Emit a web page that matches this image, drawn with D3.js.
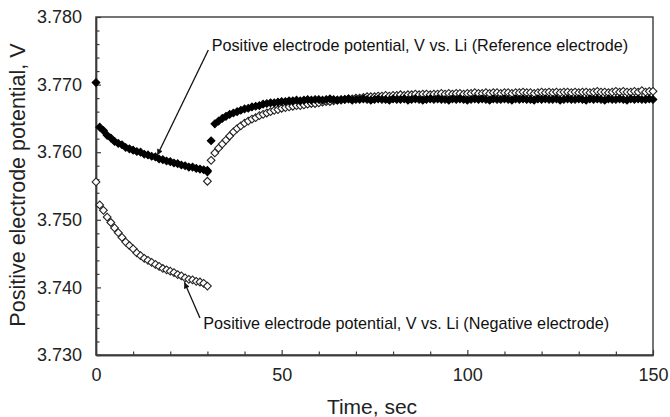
<!DOCTYPE html>
<html>
<head>
<meta charset="utf-8">
<script src="https://cdn.jsdelivr.net/npm/d3@7/dist/d3.min.js"></script>
<style>
  html, body { margin: 0; padding: 0; background: #fff; }
  svg { display: block; font-family: "Liberation Sans", Arial, Helvetica, sans-serif; }
</style>
</head>
<body>
<svg id="chart" width="670" height="417"></svg>
<script>
// Sample times (s): 30 s current pulse, then relaxation; t = 30 is sampled twice
const time = [
  0,1,2,3,4,5,6,7,8,9,10,11,12,13,14,15,16,17,18,19,20,21,22,23,24,25,26,27,28,29,30,
  30,31,32,33,34,35,36,37,38,39,40,41,42,43,44,45,46,47,48,49,50,
  51,52,53,54,55,56,57,58,59,60,61,62,63,64,65,66,67,68,69,70,
  71,72,73,74,75,76,77,78,79,80,81,82,83,84,85,86,87,88,89,90,
  91,92,93,94,95,96,97,98,99,100,101,102,103,104,105,106,107,108,109,110,
  111,112,113,114,115,116,117,118,119,120,121,122,123,124,125,126,127,128,129,130,
  131,132,133,134,135,136,137,138,139,140,141,142,143,144,145,146,147,148,149,150
];

// Positive electrode potential vs. Li reference electrode (V)
const vsReference = [
  3.7703,3.7637,3.7632,3.7625,3.7621,3.7616,3.7613,3.7611,3.7607,3.7605,3.7603,3.7601,3.7600,3.7597,3.7596,3.7594,
  3.7593,3.7590,3.7589,3.7587,3.7586,3.7584,3.7583,3.7581,3.7580,3.7578,3.7578,3.7576,3.7575,3.7574,3.7571,
  3.7573,3.7617,3.7642,3.7646,3.7650,3.7653,3.7656,3.7658,3.7660,3.7662,3.7664,3.7665,3.7667,3.7668,3.7669,3.7671,
  3.7672,3.7673,3.7673,3.7674,3.7675,
  3.7675,3.7676,3.7676,3.7677,3.7676,3.7677,3.7678,3.7677,3.7678,3.7678,
  3.7677,3.7678,3.7679,3.7678,3.7677,3.7678,3.7678,3.7679,3.7677,3.7678,
  3.7678,3.7679,3.7678,3.7677,3.7678,3.7679,3.7678,3.7678,3.7677,3.7679,
  3.7678,3.7678,3.7679,3.7677,3.7678,3.7679,3.7678,3.7677,3.7678,3.7679,
  3.7678,3.7679,3.7678,3.7678,3.7677,3.7679,3.7678,3.7679,3.7678,3.7677,
  3.7678,3.7679,3.7678,3.7679,3.7678,3.7677,3.7679,3.7678,3.7678,3.7679,
  3.7678,3.7677,3.7679,3.7678,3.7679,3.7678,3.7678,3.7677,3.7679,3.7678,
  3.7679,3.7678,3.7678,3.7679,3.7677,3.7678,3.7679,3.7678,3.7678,3.7679,
  3.7678,3.7677,3.7679,3.7678,3.7679,3.7678,3.7677,3.7679,3.7678,3.7678,
  3.7679,3.7678,3.7677,3.7679,3.7678,3.7679,3.7678,3.7678,3.7679,3.7678
];

// Positive electrode potential vs. Li taken against the negative electrode (V)
const vsNegative = [
  3.7556,3.7522,3.7514,3.7504,3.7496,3.7488,3.7481,3.7474,3.7467,3.7462,3.7457,3.7451,3.7447,3.7443,3.7440,3.7437,
  3.7434,3.7431,3.7428,3.7426,3.7424,3.7422,3.7419,3.7417,3.7414,3.7412,3.7411,3.7409,3.7408,3.7406,3.7402,
  3.7557,3.7588,3.7599,3.7606,3.7612,3.7618,3.7624,3.7630,3.7635,3.7639,3.7643,3.7646,3.7649,3.7651,3.7654,3.7656,
  3.7658,3.7660,3.7662,3.7663,3.7665,
  3.7666,3.7667,3.7668,3.7669,3.7669,3.7670,3.7671,3.7672,3.7672,3.7673,
  3.7674,3.7675,3.7675,3.7676,3.7677,3.7677,3.7678,3.7679,3.7679,3.7680,
  3.7680,3.7681,3.7682,3.7682,3.7682,3.7683,3.7683,3.7684,3.7683,3.7684,
  3.7684,3.7685,3.7684,3.7685,3.7685,3.7686,3.7685,3.7686,3.7686,3.7685,
  3.7686,3.7686,3.7687,3.7686,3.7687,3.7686,3.7687,3.7687,3.7686,3.7687,
  3.7687,3.7688,3.7687,3.7687,3.7688,3.7687,3.7688,3.7688,3.7687,3.7688,
  3.7688,3.7687,3.7688,3.7688,3.7689,3.7688,3.7688,3.7687,3.7688,3.7689,
  3.7688,3.7689,3.7688,3.7689,3.7688,3.7689,3.7689,3.7688,3.7689,3.7688,
  3.7689,3.7689,3.7688,3.7689,3.7690,3.7689,3.7689,3.7688,3.7689,3.7690,
  3.7689,3.7690,3.7689,3.7689,3.7690,3.7689,3.7691,3.7689,3.7690,3.7690
];

// Axis ticks
const xTicks = [0, 50, 100, 150];
const xMinorTicks = [10,20,30,40,60,70,80,90,110,120,130,140];
const yTicks = [3.730, 3.740, 3.750, 3.760, 3.770, 3.780];
const yMinorTicks = [3.732,3.734,3.736,3.738,3.742,3.744,3.746,3.748,3.752,3.754,3.756,3.758,
                     3.762,3.764,3.766,3.768,3.772,3.774,3.776,3.778];

// Annotation labels: text anchor and arrow (tail -> head) in data units
const noteText = [
  "Positive electrode potential, V vs. Li (Reference electrode)",
  "Positive electrode potential, V vs. Li (Negative electrode)"
];
const noteAt = [[31.15, 3.77490], [28.9, 3.73392]];
const arrowFrom = [[30.25, 3.77512], [28.0, 3.73547]];
const arrowTo = [[16.5, 3.75955], [23.8, 3.74075]];

const svg = d3.select("#chart");
const plotLeft = 96, plotRight = 653, plotTop = 17, plotBottom = 355;

const x = d3.scaleLinear().domain([0, 150]).range([plotLeft, plotRight]);
const y = d3.scaleLinear().domain([3.730, 3.780]).range([plotBottom, plotTop]);

const axisColor = "#3a3a3a";

// Plot frame
svg.append("rect")
  .attr("x", plotLeft).attr("y", plotTop)
  .attr("width", plotRight - plotLeft).attr("height", plotBottom - plotTop)
  .attr("fill", "none").attr("stroke", axisColor).attr("stroke-width", 1.4);

// Axes with inward ticks
const xAxis = svg.append("g").attr("transform", `translate(0,${plotBottom})`)
  .call(d3.axisBottom(x).tickValues(xTicks).tickSizeInner(-5).tickSizeOuter(0).tickPadding(13)
        .tickFormat(d3.format("d")));
const xMinor = svg.append("g").attr("transform", `translate(0,${plotBottom})`)
  .call(d3.axisBottom(x).tickValues(xMinorTicks).tickSizeInner(-3.5).tickSizeOuter(0).tickFormat(""));
const yAxis = svg.append("g").attr("transform", `translate(${plotLeft},0)`)
  .call(d3.axisLeft(y).tickValues(yTicks).tickSizeInner(-5).tickSizeOuter(0).tickPadding(14)
        .tickFormat(d3.format(".3f")));
const yMinor = svg.append("g").attr("transform", `translate(${plotLeft},0)`)
  .call(d3.axisLeft(y).tickValues(yMinorTicks).tickSizeInner(-3.5).tickSizeOuter(0).tickFormat(""));

[xAxis, xMinor, yAxis, yMinor].forEach(g => {
  g.select(".domain").attr("stroke", axisColor).attr("stroke-width", 1.4);
  g.selectAll(".tick line").attr("stroke", axisColor).attr("stroke-width", 1.2);
  g.selectAll(".tick text").attr("fill", "#222").style("font-size", "18px")
    .style("font-family", "'Liberation Sans', Arial, sans-serif");
});

// Axis titles
svg.append("text")
  .attr("x", 372).attr("y", 414)
  .attr("text-anchor", "middle")
  .style("font-size", "21px").attr("fill", "#222")
  .text("Time, sec");

svg.append("text")
  .attr("transform", `translate(25,${(plotTop + plotBottom) / 2 - 1}) rotate(-90)`)
  .attr("text-anchor", "middle")
  .style("font-size", "21.5px").attr("fill", "#222")
  .text("Positive electrode potential, V");

// Markers: diamonds (square rotated 45 degrees)
const diamond = d3.symbol().type(d3.symbolSquare).size(30)();

const plot = svg.append("g");

plot.append("g").selectAll("path")
  .data(time.map((t, i) => [t, vsNegative[i]]))
  .join("path")
  .attr("d", diamond)
  .attr("transform", d => `translate(${x(d[0])},${y(d[1])}) rotate(45)`)
  .attr("fill", "#fff").attr("stroke", "#222").attr("stroke-width", 1.1);

plot.append("g").selectAll("path")
  .data(time.map((t, i) => [t, vsReference[i]]))
  .join("path")
  .attr("d", diamond)
  .attr("transform", d => `translate(${x(d[0])},${y(d[1])}) rotate(45)`)
  .attr("fill", "#000").attr("stroke", "#000").attr("stroke-width", 1);

// Annotations
const defs = svg.append("defs");
defs.append("marker")
  .attr("id", "head").attr("viewBox", "0 0 10 10")
  .attr("refX", 10).attr("refY", 5)
  .attr("markerWidth", 8).attr("markerHeight", 6)
  .attr("markerUnits", "userSpaceOnUse")
  .attr("orient", "auto")
  .append("path").attr("d", "M0,0 L10,5 L0,10 Z").attr("fill", "#111");

noteText.forEach((txt, i) => {
  svg.append("line")
    .attr("x1", x(arrowFrom[i][0])).attr("y1", y(arrowFrom[i][1]))
    .attr("x2", x(arrowTo[i][0])).attr("y2", y(arrowTo[i][1]))
    .attr("stroke", "#111").attr("stroke-width", 1.3)
    .attr("marker-end", "url(#head)");
  svg.append("text")
    .attr("x", x(noteAt[i][0])).attr("y", y(noteAt[i][1]))
    .style("font-size", "16.2px").attr("fill", "#111")
    .text(txt);
});
</script>
</body>
</html>
